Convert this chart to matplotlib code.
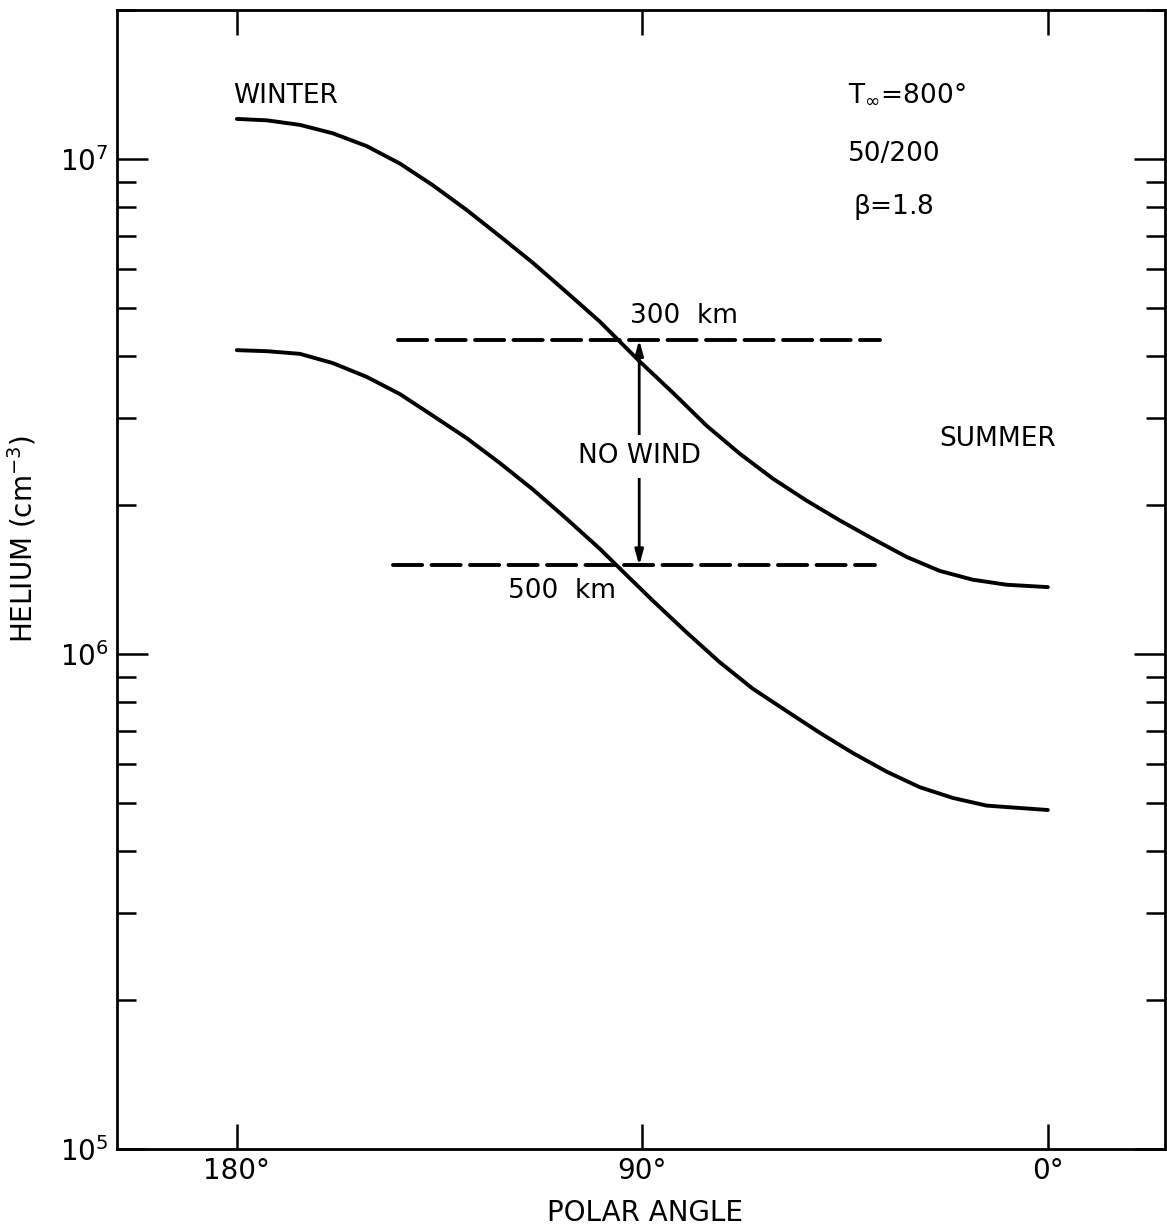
import numpy as np
import matplotlib
matplotlib.use("Agg")
import matplotlib.pyplot as plt
from matplotlib.ticker import NullFormatter

# polar angle (deg) and helium density (cm^-3)
angle_300 = [180.0, 173.3, 166.0, 158.7, 151.2, 143.8, 136.5, 129.0, 121.6, 114.3, 106.8,
             99.4, 95.7, 90.6, 83.2, 75.7, 68.4, 61.0, 53.5, 46.2, 38.9, 31.3, 24.0,
             16.7, 9.1, 0.0]
helium_300 = [1.205e7, 1.197e7, 1.172e7, 1.127e7, 1.062e7, 9.79e6, 8.85e6, 7.89e6, 6.98e6,
              6.17e6, 5.38e6, 4.69e6, 4.34e6, 3.90e6, 3.37e6, 2.89e6, 2.54e6, 2.26e6,
              2.04e6, 1.862e6, 1.710e6, 1.570e6, 1.472e6, 1.413e6, 1.380e6, 1.365e6]

angle_500 = [180.0, 173.3, 166.0, 158.7, 151.2, 143.8, 136.5, 129.0, 121.6, 114.3, 106.8,
             99.4, 95.7, 87.7, 80.1, 72.8, 65.5, 57.9, 50.6, 43.3, 35.7, 28.4, 21.1,
             13.6, 0.0]
helium_500 = [4.11e6, 4.09e6, 4.04e6, 3.87e6, 3.63e6, 3.35e6, 3.03e6, 2.73e6, 2.43e6,
              2.15e6, 1.875e6, 1.63e6, 1.51e6, 1.282e6, 1.104e6, 9.62e5, 8.51e5, 7.66e5,
              6.93e5, 6.31e5, 5.78e5, 5.38e5, 5.12e5, 4.94e5, 4.84e5]

# no-wind reference levels
nowind_300 = 4.31e6
nowind_500 = 1.51e6
nowind_span_300 = [144.3, 37.3]
nowind_span_500 = [145.4, 38.4]
arrow_angle = 90.7

xticks = [180, 90, 0]
xticklabels = ["180°", "90°", "0°"]

plt.rcParams['font.family'] = ['DejaVu Sans']
plt.rcParams['mathtext.default'] = 'regular'

fig = plt.figure(figsize=(11.67, 12.29), dpi=100)
ax = fig.add_axes([117 / 1167, 80 / 1229, 1048 / 1167, 1139 / 1229])

lw = 2.8
ax.plot(angle_300, helium_300, color='black', lw=lw, solid_capstyle='round', solid_joinstyle='round')
ax.plot(angle_500, helium_500, color='black', lw=lw, solid_capstyle='round', solid_joinstyle='round')

ax.plot(nowind_span_300, [nowind_300] * 2, color='black', lw=lw, dashes=[7.5, 2.4], dash_capstyle='round')
ax.plot(nowind_span_500, [nowind_500] * 2, color='black', lw=lw, dashes=[7.5, 2.4], dash_capstyle='round')

ax.annotate('', xy=(arrow_angle, nowind_300), xytext=(arrow_angle, nowind_500),
            arrowprops=dict(arrowstyle='<|-|>,head_length=0.9,head_width=0.25',
                            color='black', lw=2.0, shrinkA=0, shrinkB=0))

ax.set_yscale('log')
ax.set_xlim(206.6, -26.0)
ax.set_ylim(1e5, 2e7)

ax.set_xticks(xticks)
ax.set_xticklabels(xticklabels)
ax.yaxis.set_minor_formatter(NullFormatter())

for s in ax.spines.values():
    s.set_linewidth(2.0)

ax.tick_params(which='both', direction='in', top=True, right=True, width=1.8, labelsize=20)
ax.tick_params(axis='x', which='major', length=18, pad=6)
ax.tick_params(axis='y', which='major', length=22, pad=6)
ax.tick_params(axis='y', which='minor', length=14)

fs = 19
ax.text(180.9, 1.34e7, "WINTER", fontsize=fs, ha='left', va='center')
ax.text(44.4, 1.35e7, r"T$_{\infty}$=800°", fontsize=fs, ha='left', va='center')
ax.text(44.4, 1.024e7, "50/200", fontsize=fs, ha='left', va='center')
ax.text(43.3, 8.0e6, r"$\beta$=1.8", fontsize=fs, ha='left', va='center')
ax.text(92.8, 4.82e6, "300  km", fontsize=fs, ha='left', va='center')
ax.text(90.6, 2.51e6, "NO WIND", fontsize=fs, ha='center', va='center', zorder=5,
        bbox=dict(facecolor='white', edgecolor='none', pad=6))
ax.text(119.9, 1.34e6, "500  km", fontsize=fs, ha='left', va='center')
ax.text(24.0, 2.72e6, "SUMMER", fontsize=fs, ha='left', va='center')

ax.set_xlabel("POLAR ANGLE", fontsize=20)
ax.xaxis.set_label_coords(0.504, -0.056)
ax.xaxis.label.set_va('center')
ax.set_ylabel(r"HELIUM (cm$^{-3}$)", fontsize=20)
ax.yaxis.set_label_coords(-0.0906, 0.536)
ax.yaxis.label.set_va('center')

plt.savefig("out.png", dpi=100)
